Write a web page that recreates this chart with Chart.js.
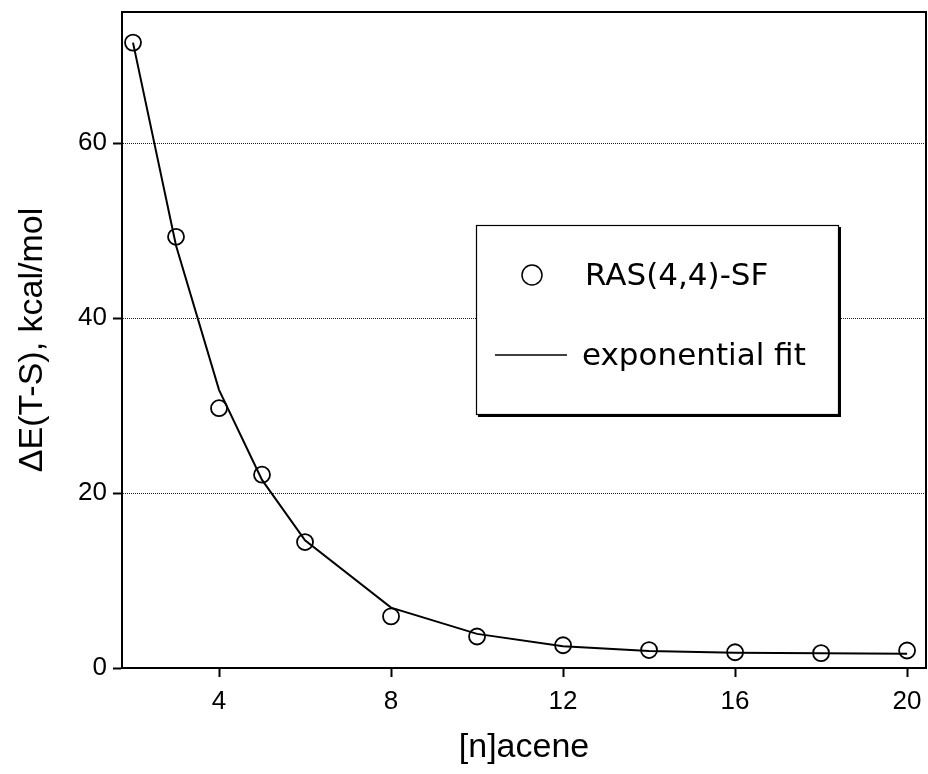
<!DOCTYPE html>
<html>
<head>
<meta charset="utf-8">
<script src="https://cdn.jsdelivr.net/npm/chart.js@4/dist/chart.umd.min.js"></script>
<style>
  body { margin: 0; background: #fff; }
  canvas { display: block; }
</style>
</head>
<body>
<canvas id="chart" width="928" height="774"></canvas>
<script>
// acene size n
const acenes = [2, 3, 4, 5, 6, 8, 10, 12, 14, 16, 18, 20];
// RAS(4,4)-SF singlet-triplet gaps, kcal/mol
const rasValues = [71.5, 49.3, 29.7, 22.1, 14.4, 5.9, 3.6, 2.6, 2.05, 1.8, 1.7, 2.0];
// exponential fit evaluated at the same n
const fitValues = [71.5, 48.3, 31.8, 21.5, 14.6, 6.9, 3.9, 2.5, 1.95, 1.75, 1.68, 1.62];

const xTicks = [4, 8, 12, 16, 20];
const yTicks = [0, 20, 40, 60];

const toXY = (vals) => acenes.map((n, i) => ({ x: n, y: vals[i] }));

// box round the plot area (Chart.js only draws the left and bottom axis lines)
const framePlugin = {
    id: 'frame',
    afterDatasetsDraw(chart) {
        const { ctx, chartArea: a } = chart;
        ctx.save();
        ctx.strokeStyle = '#000';
        ctx.lineWidth = 2;
        ctx.strokeRect(a.left, a.top, a.right - a.left, a.bottom - a.top);
        ctx.restore();
    }
};

// legend drawn inside the plot, with a drop shadow
const boxLegend = {
    id: 'boxLegend',
    afterDraw(chart) {
        const ctx = chart.ctx;
        const ds = chart.data.datasets;
        const bx = 476, by = 225, bw = 363, bh = 190;
        ctx.save();
        ctx.fillStyle = '#000';
        ctx.fillRect(bx + 2, by + 2, bw, bh);
        ctx.fillStyle = '#fff';
        ctx.fillRect(bx, by, bw, bh);
        ctx.strokeStyle = '#000';
        ctx.lineWidth = 1.2;
        ctx.strokeRect(bx + 0.5, by + 0.5, bw - 1, bh - 1);

        ctx.lineWidth = 1.5;
        ctx.beginPath();
        ctx.arc(532, 275, 10, 0, Math.PI * 2);
        ctx.stroke();

        ctx.beginPath();
        ctx.moveTo(495, 355);
        ctx.lineTo(567, 355);
        ctx.stroke();

        ctx.fillStyle = '#000';
        ctx.font = '31px "DejaVu Sans"';
        ctx.textBaseline = 'alphabetic';
        ctx.textAlign = 'left';
        ctx.fillText(ds[0].label, 585, 285);
        ctx.fillText(ds[1].label, 582, 365);
        ctx.restore();
    }
};

const font = 'Liberation Sans';

new Chart(document.getElementById('chart'), {
    type: 'scatter',
    data: {
        datasets: [{
            label: 'RAS(4,4)-SF',
            data: toXY(rasValues),
            showLine: false,
            pointStyle: 'circle',
            pointRadius: 8,
            pointBorderWidth: 1.8,
            pointBorderColor: '#000',
            pointBackgroundColor: 'rgba(0,0,0,0)',
            order: 1
        }, {
            label: 'exponential fit',
            data: toXY(fitValues),
            showLine: true,
            tension: 0,
            borderColor: '#000',
            borderWidth: 2,
            pointRadius: 0,
            order: 2
        }]
    },
    options: {
        responsive: false,
        animation: false,
        layout: { autoPadding: false, padding: { top: 12, right: 2, left: 0, bottom: 0 } },
        plugins: {
            legend: { display: false },
            tooltip: { enabled: false }
        },
        scales: {
            x: {
                type: 'linear',
                min: 1.744,
                max: 20.44,
                afterBuildTicks: s => { s.ticks = xTicks.map(v => ({ value: v })); },
                afterFit: s => { s.height = 106; s.paddingLeft = 0; s.paddingRight = 0; },
                grid: { drawOnChartArea: false, tickLength: 9, tickColor: '#000', tickWidth: 2 },
                border: { display: true, color: '#000', width: 2 },
                ticks: {
                    color: '#000',
                    font: { family: font, size: 26 },
                    padding: 9,
                    maxRotation: 0,
                    autoSkip: false
                },
                title: {
                    display: true,
                    text: '[n]acene',
                    color: '#000',
                    font: { family: font, size: 34 },
                    padding: { top: 0, bottom: 6 }
                }
            },
            y: {
                min: 0,
                max: 75,
                afterBuildTicks: s => { s.ticks = yTicks.map(v => ({ value: v })); },
                afterFit: s => { s.width = 122; s.paddingTop = 0; s.paddingBottom = 0; },
                grid: {
                    color: c => (c.tick && c.tick.value === 0) ? 'rgba(0,0,0,0)' : '#222',
                    lineWidth: 1,
                    tickLength: 9,
                    tickColor: '#000',
                    tickWidth: 2
                },
                border: { display: true, color: '#000', width: 2, dash: [1, 1] },
                ticks: {
                    color: '#000',
                    font: { family: font, size: 26 },
                    padding: 6
                },
                title: {
                    display: true,
                    text: 'ΔE(T-S), kcal/mol',
                    color: '#000',
                    font: { family: font, size: 34 },
                    padding: { top: 12, bottom: 0 }
                }
            }
        }
    },
    plugins: [framePlugin, boxLegend]
});
</script>
</body>
</html>
